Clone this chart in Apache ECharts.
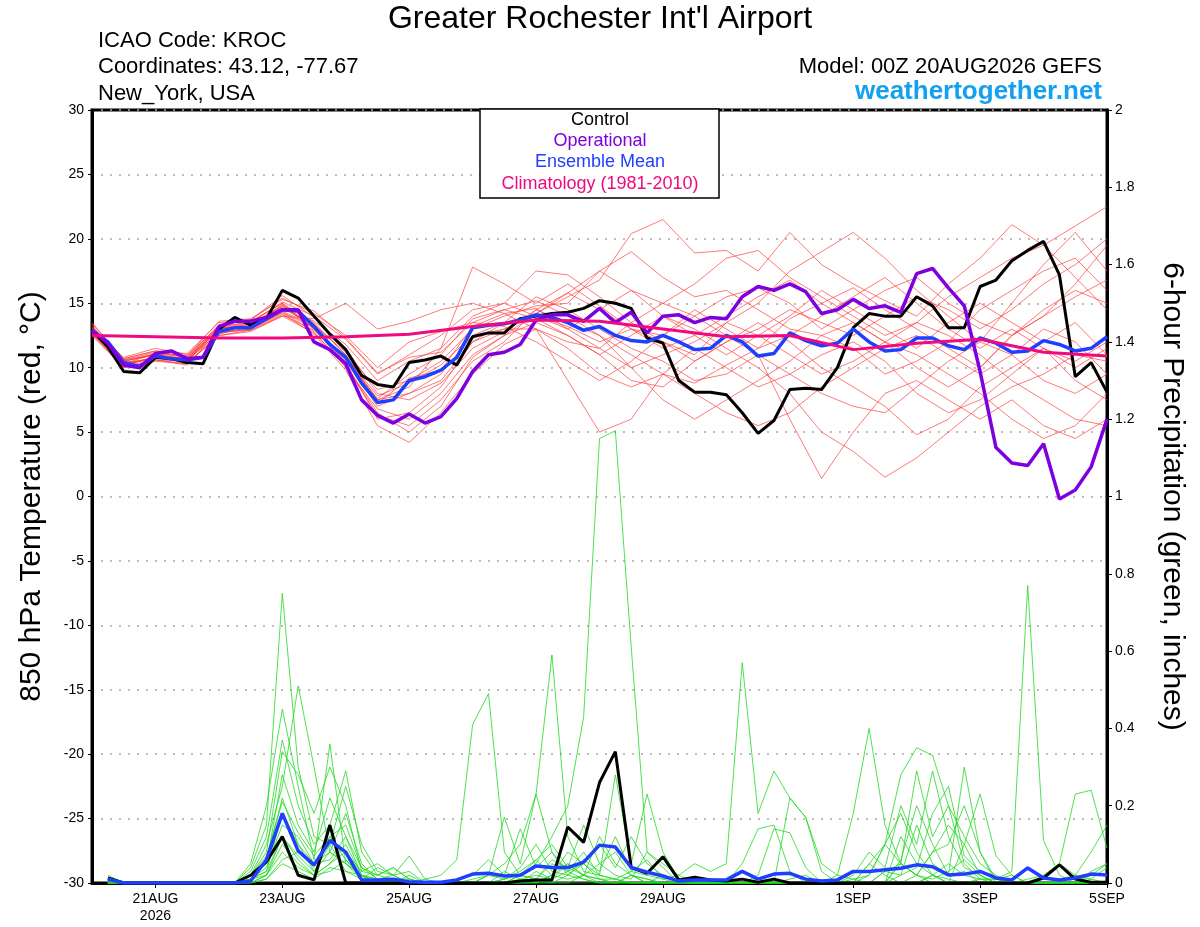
<!DOCTYPE html>
<html>
<head>
<meta charset="utf-8">
<script src="https://cdn.jsdelivr.net/npm/echarts@6/dist/echarts.min.js"></script>
<style>
    html, body { margin: 0; padding: 0; background: #fff; }
    #chart { width: 1200px; height: 927px; }
</style>
</head>
<body>
<div id="chart"></div>
<script>
const varFont = 'Liberation Sans';

// x axis: forecast hours from 00Z 20AUG2026
const tickHours = [24, 72, 120, 168, 216, 288, 336, 384];
const tickLabels = ['21AUG\n2026', '23AUG', '25AUG', '27AUG', '29AUG', '1SEP', '3SEP', '5SEP'];

// 850 hPa temperature, every 6h from hour 0
const controlTemp = [
    12.9, 11.6, 9.7, 9.6, 10.8, 10.7, 10.4, 10.3,
    13.0, 13.9, 13.3, 13.8, 16.0, 15.4, 14.0, 12.6,
    11.4, 9.4, 8.7, 8.5, 10.4, 10.6, 10.9, 10.2,
    12.4, 12.7, 12.7, 13.8, 14.0, 14.2, 14.3, 14.6,
    15.2, 15.0, 14.6, 12.3, 11.9, 9.0, 8.1, 8.1,
    7.9, 6.5, 4.9, 5.9, 8.3, 8.4, 8.3, 10.0,
    13.1, 14.2, 14.0, 14.0, 15.5, 14.8, 13.1, 13.1,
    16.3, 16.8, 18.3, 19.1, 19.8, 17.2, 9.3, 10.4,
    8.1
];
const operationalTemp = [
    12.9, 11.9, 10.2, 10.0, 11.1, 11.3, 10.7, 10.8,
    13.2, 13.6, 13.6, 13.9, 14.5, 14.5, 12.0, 11.4,
    10.3, 7.5, 6.3, 5.7, 6.4, 5.7, 6.2, 7.6,
    9.7, 11.0, 11.2, 11.8, 13.7, 14.1, 14.1, 13.6,
    14.6, 13.5, 14.3, 12.7, 14.0, 14.1, 13.5, 13.9,
    13.8, 15.5, 16.3, 16.0, 16.5, 15.9, 14.2, 14.5,
    15.3, 14.6, 14.8, 14.3, 17.3, 17.7, 16.2, 14.8,
    9.7, 3.8, 2.6, 2.4, 4.1, -0.2, 0.5, 2.3,
    6.0
];
const meanTemp = [
    12.9, 12.0, 10.4, 10.1, 10.9, 10.7, 10.6, 10.8,
    12.8, 13.1, 13.1, 13.8, 14.5, 14.4, 13.2, 11.8,
    10.8, 8.8, 7.3, 7.5, 9.0, 9.3, 9.8, 10.8,
    13.1, 13.3, 13.4, 13.7, 14.1, 13.9, 13.5, 12.9,
    13.2, 12.5, 12.1, 12.0, 12.5, 12.0, 11.4, 11.5,
    12.5, 12.0, 10.9, 11.1, 12.7, 12.1, 11.7, 11.9,
    13.0, 12.0, 11.3, 11.4, 12.3, 12.3, 11.7, 11.4,
    12.3, 11.9, 11.2, 11.3, 12.1, 11.8, 11.3, 11.5,
    12.4
];
// climatology, daily at 00Z
const climTemp = [12.5, 12.4, 12.3, 12.3, 12.4, 12.6, 13.2, 13.7, 13.6, 13.0, 12.4, 12.5, 11.4, 11.9, 12.2, 11.2, 10.9];

// ensemble members, every 12h from hour 0
const memberTemp = [
    [13.5, 10.6, 11.2, 10.9, 13.6, 13.8, 15.3, 14.4, 12.3, 9.6, 10.8, 11.2, 13.5, 14.5, 15.2, 14.0, 12.5, 11.0, 9.5, 8.8, 10.2, 11.5, 13.8, 15.0, 16.2, 14.5, 13.0, 11.5, 10.0, 12.5, 14.0, 15.5, 16.8],
    [12.6, 10.0, 10.6, 10.2, 12.9, 13.4, 14.8, 13.0, 10.2, 6.5, 5.0, 7.0, 10.8, 12.5, 14.2, 15.5, 16.8, 20.4, 21.5, 18.9, 19.1, 17.5, 20.5, 18.0, 16.5, 15.2, 14.0, 16.5, 18.5, 21.1, 19.5, 17.0, 14.5],
    [13.0, 10.8, 11.5, 11.0, 13.2, 13.0, 14.2, 12.6, 9.8, 5.5, 4.2, 6.5, 9.5, 11.8, 13.0, 9.0, 5.0, 6.0, 9.5, 11.5, 10.0, 8.5, 9.5, 11.0, 12.0, 10.5, 8.0, 6.5, 7.5, 9.5, 11.5, 9.0, 7.5],
    [12.8, 10.2, 10.8, 10.4, 12.5, 12.8, 14.0, 13.8, 15.0, 13.0, 13.6, 14.5, 15.0, 14.2, 13.0, 12.0, 11.5, 13.5, 15.0, 14.0, 12.5, 11.0, 9.5, 8.0, 7.0, 6.5, 8.5, 10.5, 12.0, 11.0, 9.0, 8.0, 9.5],
    [12.9, 10.4, 10.6, 10.5, 13.0, 13.5, 15.0, 13.5, 11.0, 7.5, 8.5, 11.5, 17.8, 16.5, 15.0, 16.5, 14.8, 13.0, 12.5, 14.0, 15.5, 16.2, 15.0, 13.0, 14.5, 16.0, 17.0, 15.0, 13.5, 12.5, 14.0, 16.5, 19.5],
    [13.1, 10.7, 11.3, 10.8, 13.3, 13.7, 15.6, 13.9, 11.5, 8.0, 7.5, 8.8, 11.5, 12.8, 14.5, 13.5, 12.5, 10.0, 7.5, 6.0, 7.5, 9.0, 10.5, 12.5, 11.5, 9.5, 10.5, 12.0, 14.5, 16.0, 17.5, 18.5, 16.0],
    [12.7, 10.1, 10.9, 10.6, 12.7, 13.0, 14.3, 12.8, 10.0, 6.8, 6.0, 8.0, 11.0, 12.5, 13.5, 12.5, 11.0, 9.0, 8.5, 10.5, 12.0, 13.5, 12.0, 10.0, 8.5, 7.0, 4.8, 6.0, 8.5, 10.0, 11.5, 10.5, 12.0],
    [12.9, 10.5, 11.0, 10.7, 12.9, 13.3, 14.6, 13.3, 11.2, 8.3, 9.0, 10.5, 13.0, 14.0, 14.8, 15.0, 17.5, 16.0, 14.0, 12.5, 11.0, 12.5, 14.0, 16.0, 14.5, 13.0, 11.5, 13.5, 15.0, 13.5, 12.0, 13.5, 11.0],
    [13.3, 10.3, 11.1, 10.8, 13.1, 13.2, 14.9, 13.0, 10.5, 7.0, 8.0, 9.0, 12.0, 13.5, 15.5, 14.5, 13.0, 11.5, 10.5, 9.0, 9.5, 11.0, 6.0, 1.4, 5.0, 8.0, 9.0, 7.5, 6.0, 7.5, 5.5, 4.5, 6.0],
    [12.5, 10.0, 10.5, 10.3, 12.6, 13.2, 14.4, 13.2, 10.6, 7.6, 9.5, 11.0, 13.8, 14.5, 13.8, 12.5, 11.0, 12.5, 14.0, 13.0, 11.5, 10.0, 8.0, 5.0, 3.5, 1.5, 3.0, 5.0, 7.0, 8.5, 9.5, 11.0, 10.5],
    [13.0, 10.6, 11.0, 10.5, 12.8, 12.9, 14.1, 12.9, 10.9, 7.8, 8.8, 10.2, 12.5, 13.0, 14.0, 13.2, 12.0, 13.0, 12.0, 10.5, 12.0, 13.0, 14.5, 13.5, 12.5, 14.0, 15.5, 14.5, 13.0, 14.5, 16.5, 18.0, 20.0],
    [12.8, 10.4, 10.7, 10.6, 13.0, 13.4, 14.7, 13.4, 11.0, 7.2, 9.2, 9.8, 13.2, 14.2, 14.6, 13.0, 11.5, 10.0, 11.0, 12.0, 13.5, 12.5, 11.0, 9.5, 10.5, 12.0, 11.0, 9.5, 8.0, 6.0, 4.5, 5.5, 8.0],
    [13.1, 10.5, 11.0, 10.7, 13.0, 13.1, 14.8, 13.6, 11.8, 9.0, 10.5, 11.5, 14.0, 15.0, 17.5, 17.2, 15.5, 13.5, 12.0, 11.0, 13.5, 15.0, 17.5, 19.0, 20.5, 18.5, 16.0, 14.0, 12.0, 15.0, 18.0, 20.5, 17.5],
    [12.7, 10.2, 10.8, 10.6, 12.7, 13.0, 14.3, 13.1, 10.4, 6.0, 6.5, 8.5, 12.0, 13.0, 13.0, 11.5, 9.5, 8.5, 9.5, 8.0, 6.5, 5.5, 6.5, 8.5, 10.0, 11.5, 12.5, 11.0, 9.5, 11.0, 13.0, 12.0, 9.5],
    [13.2, 10.5, 11.1, 10.9, 13.2, 13.5, 15.1, 14.0, 12.2, 9.5, 11.0, 12.5, 14.5, 15.0, 14.0, 13.0, 14.5, 16.0, 15.0, 16.5, 18.5, 19.1, 17.0, 15.5, 14.0, 12.5, 13.5, 15.5, 17.0, 18.5, 19.5, 21.0, 22.5],
    [12.9, 10.3, 10.8, 10.7, 13.1, 13.6, 15.0, 13.0, 10.8, 7.5, 8.0, 9.5, 12.5, 13.5, 14.2, 15.8, 17.5, 19.0, 17.0, 15.5, 16.0, 14.5, 13.0, 12.5, 13.5, 12.0, 10.0, 8.5, 10.0, 12.5, 14.5, 16.0, 15.0],
    [12.6, 10.1, 10.6, 10.3, 12.5, 12.9, 14.0, 12.7, 10.1, 6.3, 5.5, 7.5, 10.5, 12.0, 14.5, 15.8, 14.5, 13.0, 11.5, 12.5, 14.0, 15.5, 16.8, 15.0, 13.5, 12.0, 13.5, 12.5, 11.0, 9.0, 7.5, 6.0, 5.5],
    [13.4, 10.7, 11.3, 11.1, 13.5, 13.7, 15.4, 14.2, 12.5, 10.0, 12.0, 12.8, 13.5, 13.2, 12.0, 10.5, 9.0, 10.5, 12.5, 14.5, 13.0, 11.5, 12.5, 14.0, 15.5, 17.0, 15.0, 13.0, 11.5, 13.0, 11.5, 10.0, 11.5]
];

// 6-hour precipitation (inches), every 6h from hour 6
const controlPrecip = [
    0.013, 0, 0, 0, 0, 0, 0, 0,
    0, 0.02, 0.055, 0.12, 0.02, 0.008, 0.15, 0,
    0, 0, 0, 0, 0, 0, 0, 0,
    0, 0, 0.005, 0.008, 0.008, 0.145, 0.105, 0.26,
    0.34, 0.04, 0.025, 0.068, 0.008, 0.015, 0.008, 0.005,
    0.01, 0.002, 0.01, 0, 0, 0, 0, 0,
    0, 0, 0, 0, 0, 0, 0, 0,
    0, 0, 0, 0.013, 0.047, 0.01, 0.002, 0.002
];
const meanPrecip = [
    0.01, 0, 0, 0, 0, 0, 0, 0,
    0, 0.005, 0.06, 0.18, 0.083, 0.047, 0.11, 0.08,
    0.008, 0.008, 0.01, 0.003, 0.002, 0.002, 0.008, 0.023,
    0.025, 0.018, 0.02, 0.044, 0.04, 0.04, 0.054, 0.098,
    0.093, 0.04, 0.028, 0.018, 0.005, 0.008, 0.008, 0.008,
    0.03, 0.01, 0.023, 0.025, 0.01, 0.005, 0.008, 0.03,
    0.03, 0.034, 0.038, 0.047, 0.042, 0.021, 0.023, 0.03,
    0.013, 0.008, 0.039, 0.013, 0.008, 0.013, 0.023, 0.021
];
const memberPrecip = [
    [0.02, 0, 0, 0, 0, 0, 0, 0, 0, 0.04, 0.15, 0.75, 0.30, 0.12, 0.10, 0.03, 0.02, 0.01, 0, 0, 0, 0, 0, 0, 0, 0, 0.01, 0.02, 0.01, 0.03, 0.08, 0.02, 0.01, 0, 0, 0.02, 0, 0, 0, 0, 0, 0, 0, 0, 0, 0, 0, 0, 0, 0.03, 0.05, 0.02, 0, 0, 0, 0.01, 0, 0, 0, 0, 0.01, 0.02, 0, 0],
    [0.01, 0, 0, 0, 0, 0, 0, 0, 0, 0.02, 0.10, 0.25, 0.51, 0.30, 0.08, 0.05, 0.01, 0, 0, 0.02, 0, 0, 0, 0, 0, 0, 0, 0, 0.02, 0.05, 0.02, 0.01, 0, 0, 0, 0, 0, 0, 0, 0, 0, 0, 0.01, 0, 0, 0, 0, 0, 0, 0, 0, 0, 0.02, 0.05, 0.02, 0.01, 0.01, 0.03, 0.77, 0.11, 0.02, 0, 0.02, 0.05],
    [0, 0, 0, 0, 0, 0, 0, 0, 0, 0.05, 0.20, 0.45, 0.25, 0.06, 0.36, 0.05, 0.02, 0, 0, 0, 0, 0, 0, 0, 0, 0, 0, 0.01, 0, 0, 0, 0, 0, 0.02, 0, 0, 0, 0, 0, 0, 0, 0, 0, 0, 0, 0, 0, 0, 0.05, 0.10, 0.18, 0.08, 0.02, 0, 0, 0, 0, 0, 0, 0, 0, 0, 0, 0],
    [0, 0, 0, 0, 0, 0, 0, 0, 0, 0.03, 0.12, 0.37, 0.20, 0.10, 0.15, 0.29, 0.08, 0.02, 0.01, 0, 0, 0, 0, 0, 0, 0.01, 0.03, 0.06, 0.10, 0.04, 0.02, 0.12, 0.05, 0.02, 0.01, 0, 0, 0, 0, 0, 0, 0, 0, 0, 0, 0, 0, 0.02, 0.08, 0.04, 0.20, 0.10, 0.29, 0.12, 0.04, 0.02, 0, 0, 0, 0, 0, 0, 0, 0],
    [0, 0, 0, 0, 0, 0, 0, 0, 0, 0.02, 0.08, 0.34, 0.28, 0.18, 0.30, 0.20, 0.03, 0.02, 0.04, 0.01, 0, 0, 0, 0, 0, 0, 0, 0, 0, 0.02, 0.05, 0.01, 0, 0, 0, 0, 0, 0, 0, 0, 0.05, 0.14, 0.15, 0.03, 0, 0, 0, 0, 0, 0, 0, 0, 0, 0, 0, 0, 0, 0, 0.01, 0.02, 0.05, 0.23, 0.24, 0.09],
    [0, 0, 0, 0, 0, 0, 0, 0, 0, 0.01, 0.05, 0.28, 0.15, 0.08, 0.22, 0.12, 0.02, 0, 0.01, 0.01, 0, 0, 0, 0, 0, 0.03, 0.01, 0, 0.02, 0.08, 0.05, 0.02, 0.28, 0.05, 0.23, 0.08, 0.01, 0, 0, 0, 0, 0, 0, 0, 0, 0, 0, 0, 0.02, 0.10, 0.05, 0.29, 0.12, 0.20, 0.05, 0.01, 0.01, 0, 0, 0, 0, 0, 0, 0],
    [0, 0, 0, 0, 0, 0, 0, 0, 0, 0.02, 0.06, 0.22, 0.10, 0.03, 0.10, 0.25, 0.10, 0.03, 0.02, 0, 0, 0, 0, 0, 0.02, 0.17, 0.05, 0.23, 0.08, 0.03, 0.05, 0.10, 0.04, 0.12, 0.05, 0.02, 0, 0, 0, 0, 0, 0.02, 0.14, 0.13, 0.04, 0, 0, 0, 0, 0, 0.05, 0.02, 0.01, 0.03, 0.06, 0.02, 0, 0, 0, 0, 0, 0, 0, 0],
    [0, 0, 0, 0, 0, 0, 0, 0, 0, 0.01, 0.04, 0.15, 0.12, 0.05, 0.08, 0.18, 0.05, 0.01, 0.02, 0.03, 0, 0, 0, 0, 0, 0, 0.02, 0.01, 0.06, 0.04, 0.15, 0.05, 0.02, 0.01, 0.08, 0.04, 0, 0, 0, 0, 0, 0.01, 0, 0.22, 0.17, 0.03, 0, 0, 0.05, 0.02, 0, 0.02, 0.08, 0.10, 0.20, 0.08, 0.01, 0, 0, 0, 0, 0, 0, 0],
    [0, 0, 0, 0, 0, 0, 0, 0, 0, 0, 0.02, 0.10, 0.05, 0.02, 0.05, 0.10, 0.02, 0.01, 0, 0, 0.01, 0.02, 0.06, 0.41, 0.49, 0.08, 0.02, 0.01, 0.05, 0.03, 0.01, 0, 0, 0, 0, 0, 0, 0, 0, 0, 0, 0, 0, 0, 0, 0, 0, 0, 0, 0, 0.02, 0.15, 0.05, 0.02, 0.30, 0.08, 0, 0, 0, 0, 0, 0, 0, 0],
    [0, 0, 0, 0, 0, 0, 0, 0, 0, 0, 0.01, 0.06, 0.08, 0.04, 0.12, 0.06, 0.01, 0.04, 0.02, 0, 0, 0, 0, 0, 0.02, 0.05, 0.10, 0.23, 0.59, 0.12, 0.03, 0.02, 0.01, 0, 0, 0, 0, 0, 0, 0, 0, 0, 0, 0, 0, 0, 0, 0, 0, 0, 0.12, 0.05, 0.02, 0, 0.10, 0.02, 0, 0, 0, 0, 0, 0, 0, 0],
    [0, 0, 0, 0, 0, 0, 0, 0, 0, 0, 0.01, 0.05, 0.03, 0.01, 0.04, 0.03, 0.01, 0, 0, 0, 0, 0, 0, 0, 0, 0.01, 0.02, 0.05, 0.12, 0.20, 0.43, 1.15, 1.17, 0.61, 0.08, 0.05, 0.02, 0, 0, 0, 0, 0, 0, 0, 0, 0, 0, 0, 0, 0, 0, 0, 0, 0, 0, 0, 0, 0, 0, 0.02, 0.05, 0.02, 0.01, 0],
    [0, 0, 0, 0, 0, 0, 0, 0, 0, 0, 0.02, 0.12, 0.07, 0.03, 0.08, 0.05, 0.02, 0, 0, 0, 0, 0, 0, 0, 0, 0, 0, 0.03, 0.01, 0.05, 0.02, 0.01, 0.01, 0.03, 0.02, 0.01, 0.02, 0.05, 0.03, 0.05, 0.57, 0.18, 0.29, 0.22, 0.17, 0.05, 0.02, 0.01, 0, 0, 0, 0, 0.02, 0.01, 0, 0, 0, 0, 0, 0, 0, 0, 0, 0],
    [0, 0, 0, 0, 0, 0, 0, 0, 0, 0.01, 0.03, 0.18, 0.10, 0.05, 0.06, 0.12, 0.04, 0.01, 0, 0, 0, 0, 0, 0, 0, 0, 0.02, 0.06, 0.02, 0.01, 0.02, 0, 0, 0, 0, 0, 0, 0, 0, 0, 0, 0, 0, 0, 0, 0, 0.02, 0.18, 0.40, 0.15, 0.05, 0.02, 0.08, 0.15, 0.10, 0.23, 0.07, 0.02, 0, 0, 0, 0, 0, 0],
    [0, 0, 0, 0, 0, 0, 0, 0, 0, 0.01, 0.02, 0.08, 0.04, 0.02, 0.03, 0.06, 0.02, 0, 0, 0, 0, 0, 0, 0, 0, 0, 0, 0, 0, 0, 0.02, 0.05, 0.08, 0.02, 0.01, 0, 0, 0, 0, 0, 0, 0, 0, 0, 0, 0, 0, 0.01, 0.02, 0.10, 0.28, 0.35, 0.33, 0.20, 0.12, 0.05, 0.02, 0, 0, 0, 0, 0, 0.03, 0.05],
    [0.01, 0, 0, 0, 0, 0, 0, 0, 0, 0.01, 0.03, 0.12, 0.06, 0.02, 0.05, 0.08, 0.03, 0.05, 0.02, 0.07, 0.01, 0, 0.01, 0.02, 0.06, 0.02, 0.14, 0.04, 0.08, 0.02, 0.01, 0, 0, 0.02, 0, 0, 0, 0, 0, 0, 0, 0, 0, 0, 0, 0, 0, 0, 0, 0, 0.06, 0.20, 0.10, 0.02, 0.03, 0, 0, 0, 0, 0, 0, 0.02, 0.08, 0.15],
    [0, 0, 0, 0, 0, 0, 0, 0, 0, 0.02, 0.07, 0.21, 0.13, 0.07, 0.12, 0.15, 0.04, 0.02, 0.04, 0.01, 0, 0, 0, 0.01, 0.02, 0.01, 0.04, 0.10, 0.03, 0.02, 0.06, 0.03, 0.12, 0.03, 0.06, 0.01, 0, 0, 0, 0, 0, 0, 0, 0.01, 0.02, 0, 0, 0, 0, 0.03, 0.02, 0.04, 0.18, 0.25, 0.07, 0.03, 0.01, 0.02, 0, 0, 0, 0, 0.01, 0.04]
];

//-----------------------------------------------------------------------------
function toPairs(values, startHour, stepHour) {
    return values.map((v, i) => [startHour + i * stepHour, v]);
}

function lineSeries(name, data, axisIndex, color, width, z) {
    return {
        name: name,
        type: 'line',
        yAxisIndex: axisIndex,
        data: data,
        symbol: 'none',
        silent: true,
        z: z,
        lineStyle: {
            color: color,
            width: width,
        },
    };
}

function createChart(elementId) {
    var myChart = echarts.init(document.getElementById(elementId), null, { renderer: 'canvas' });

    let seriesItems = [];

    memberTemp.forEach((arr, i) => {
        seriesItems.push(lineSeries('member' + i, toPairs(arr, 0, 12), 0, 'rgba(255,55,55,0.9)', 0.75, 2));
    });
    memberPrecip.forEach((arr, i) => {
        seriesItems.push(lineSeries('memberPcp' + i, toPairs(arr, 6, 6), 1, '#22d822', 0.8, 3));
    });

    seriesItems.push(lineSeries('Control Pcp', toPairs(controlPrecip, 6, 6), 1, '#000000', 3, 5));
    seriesItems.push(lineSeries('Mean Pcp', toPairs(meanPrecip, 6, 6), 1, '#1f3fff', 3.5, 6));
    seriesItems.push(lineSeries('Control', toPairs(controlTemp, 0, 6), 0, '#000000', 3, 5));
    seriesItems.push(lineSeries('Ensemble Mean', toPairs(meanTemp, 0, 6), 0, '#1f3fff', 3.5, 6));
    seriesItems.push(lineSeries('Operational', toPairs(operationalTemp, 0, 6), 0, '#7f00df', 3.5, 7));
    seriesItems.push(lineSeries('Climatology', toPairs(climTemp, 0, 24), 0, '#ef0a80', 3, 8));

    const headText = { fontFamily: varFont, fontSize: 22, fill: '#000' };
    const legendText = { align: 'center', fontFamily: varFont, fontSize: 18 };

    var option = {
        animation: false,
        backgroundColor: '#fff',
        textStyle: {
            fontFamily: varFont,
        },
        grid: {
            left: 92,
            right: 93,
            top: 110,
            bottom: 44,
            show: true,
            borderColor: '#000',
            borderWidth: 3,
        },
        xAxis: {
            type: 'value',
            min: 0,
            max: 384,
            axisLine: { onZero: false, lineStyle: { color: '#000', width: 3 } },
            axisTick: {
                customValues: tickHours,
                length: 5,
                lineStyle: { color: '#000', width: 1 },
            },
            axisLabel: {
                customValues: tickHours,
                formatter: (v) => tickLabels[tickHours.indexOf(v)] || '',
                color: '#000',
                fontSize: 14,
                lineHeight: 17,
                margin: 8,
            },
            splitLine: { show: false },
        },
        yAxis: [
            {
                type: 'value',
                min: -30,
                max: 30,
                interval: 5,
                position: 'left',
                name: '850 hPa Temperature (red, \u00B0C)',
                nameLocation: 'middle',
                nameGap: 45,
                nameTextStyle: { fontSize: 30, color: '#000', fontFamily: varFont },
                axisLine: { show: true, lineStyle: { color: '#000', width: 3 } },
                axisTick: { show: true, length: 4, lineStyle: { color: '#000' } },
                axisLabel: { color: '#000', fontSize: 14, margin: 8 },
                splitLine: {
                    show: true,
                    lineStyle: { color: '#a8a8a8', type: [2, 7], width: 1.5 },
                },
            },
            {
                type: 'value',
                min: 0,
                max: 2,
                interval: 0.2,
                position: 'right',
                name: '6-hour Precipitation (green, inches)',
                nameLocation: 'middle',
                nameRotate: -90,
                nameGap: 50,
                nameTextStyle: { fontSize: 30, color: '#000', fontFamily: varFont },
                axisLine: { show: true, lineStyle: { color: '#000', width: 3 } },
                axisTick: { show: true, length: 5, lineStyle: { color: '#000' } },
                axisLabel: { color: '#000', fontSize: 14, margin: 8 },
                splitLine: { show: false },
            },
        ],
        graphic: [
            {
                type: 'text', left: 'center', top: 3,
                style: { text: "Greater Rochester Int'l Airport", fontFamily: varFont, fontSize: 32, fill: '#000' },
            },
            { type: 'text', x: 98, y: 30, style: Object.assign({ text: 'ICAO Code: KROC' }, headText) },
            { type: 'text', x: 98, y: 56, style: Object.assign({ text: 'Coordinates: 43.12, -77.67' }, headText) },
            { type: 'text', x: 98, y: 83, style: Object.assign({ text: 'New_York, USA' }, headText) },
            { type: 'text', x: 1102, y: 56, style: Object.assign({ text: 'Model: 00Z 20AUG2026 GEFS', align: 'right' }, headText) },
            {
                type: 'text', x: 1102, y: 79,
                style: { text: 'weathertogether.net', align: 'right', fontFamily: varFont, fontSize: 26, fontWeight: 'bold', fill: '#14a0f0' },
            },
            {
                type: 'rect', z: 100,
                shape: { x: 480, y: 109, width: 239, height: 89 },
                style: { fill: '#fff', stroke: '#000', lineWidth: 1.5 },
            },
            { type: 'text', z: 101, x: 600, y: 111, style: Object.assign({ text: 'Control', fill: '#000' }, legendText) },
            { type: 'text', z: 101, x: 600, y: 132, style: Object.assign({ text: 'Operational', fill: '#7f00df' }, legendText) },
            { type: 'text', z: 101, x: 600, y: 153, style: Object.assign({ text: 'Ensemble Mean', fill: '#1f3fff' }, legendText) },
            { type: 'text', z: 101, x: 600, y: 175, style: Object.assign({ text: 'Climatology (1981-2010)', fill: '#ef0a80' }, legendText) },
        ],
        series: seriesItems,
    };

    myChart.setOption(option);
};

createChart('chart');
</script>
</body>
</html>
